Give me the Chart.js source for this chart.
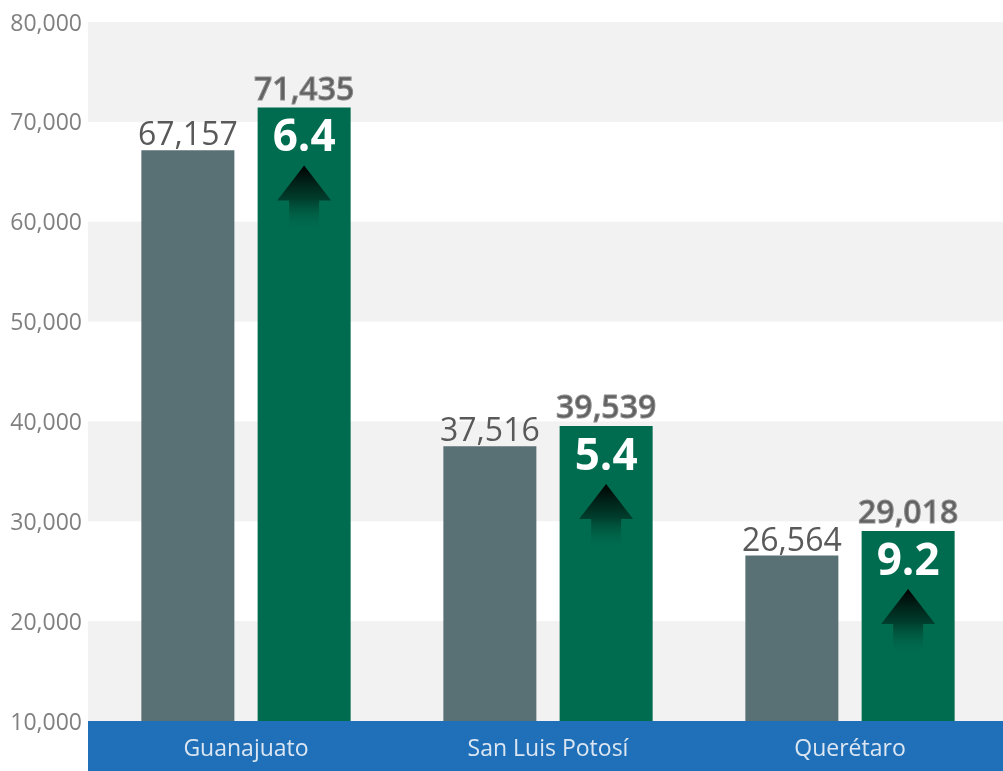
<!DOCTYPE html>
<html>
<head>
<meta charset="utf-8">
<script src="https://cdn.jsdelivr.net/npm/chart.js@4.4.0/dist/chart.umd.min.js"></script>
<style>
html,body{margin:0;padding:0;background:#fff;}
#wrap{width:1003px;height:771px;position:relative;}
</style>
</head>
<body>
<div id="wrap"><canvas id="c" width="1003" height="771"></canvas></div>
<script>
const categories = ['Guanajuato', 'San Luis Potosí', 'Querétaro'];
const seriesPrev = [67157, 37516, 26564];
const seriesCurr = [71435, 39539, 29018];
const growth = ['6.4', '5.4', '9.2'];
const yTicks = [10000, 20000, 30000, 40000, 50000, 60000, 70000, 80000];

const FONT = '"Open Sans", "Noto Sans", sans-serif';
const BAND_LEFT = 88;

const decor = {
  id: 'decor',
  beforeDraw(chart) {
    const ctx = chart.ctx, a = chart.chartArea, y = chart.scales.y;
    const right = chart.width;
    ctx.save();
    for (let i = 0; i < yTicks.length - 1; i++) {
      const lo = yTicks[i], hi = yTicks[i + 1];
      const idxFromTop = yTicks.length - 2 - i;
      if (idxFromTop % 2 === 0) {
        const y1 = y.getPixelForValue(hi), y2 = y.getPixelForValue(lo);
        ctx.fillStyle = '#f2f2f2';
        ctx.fillRect(BAND_LEFT, y1, right - BAND_LEFT, y2 - y1);
      }
    }
    ctx.fillStyle = '#1f70b8';
    ctx.fillRect(BAND_LEFT, a.bottom, right - BAND_LEFT, chart.height - a.bottom);
    ctx.restore();
  },
  afterDatasetsDraw(chart) {
    const ctx = chart.ctx;
    const m0 = chart.getDatasetMeta(0), m1 = chart.getDatasetMeta(1);
    ctx.save();
    ctx.textAlign = 'center';
    ctx.textBaseline = 'alphabetic';
    m0.data.forEach((el, i) => {
      ctx.font = '32px ' + FONT;
      ctx.fillStyle = '#595959';
      ctx.fillText(seriesPrev[i].toLocaleString('en-US'), el.x, el.y - 5);
    });
    m1.data.forEach((el, i) => {
      ctx.font = '600 32px ' + FONT;
      ctx.fillStyle = '#616161';
      ctx.strokeStyle = '#8c8c8c';
      ctx.lineWidth = 1;
      const t = seriesCurr[i].toLocaleString('en-US');
      ctx.fillText(t, el.x, el.y - 8);
      ctx.strokeText(t, el.x, el.y - 8);
      ctx.font = 'bold 44px ' + FONT;
      ctx.fillStyle = '#ffffff';
      ctx.textBaseline = 'middle';
      ctx.fillText(growth[i], el.x, el.y + 31);
      ctx.textBaseline = 'alphabetic';
      const top = el.y + 58, base = el.y + 93, bottom = el.y + 124;
      const g = ctx.createLinearGradient(0, top, 0, bottom);
      g.addColorStop(0, '#000000');
      g.addColorStop(0.5, 'rgba(0,40,28,0.7)');
      g.addColorStop(1, 'rgba(0,107,79,0)');
      ctx.fillStyle = g;
      ctx.beginPath();
      ctx.moveTo(el.x, top);
      ctx.lineTo(el.x + 27, base);
      ctx.lineTo(el.x + 15, base);
      ctx.lineTo(el.x + 15, bottom);
      ctx.lineTo(el.x - 15, bottom);
      ctx.lineTo(el.x - 15, base);
      ctx.lineTo(el.x - 27, base);
      ctx.closePath();
      ctx.fill();
    });
    ctx.restore();
  }
};

new Chart(document.getElementById('c'), {
  type: 'bar',
  data: {
    labels: categories,
    datasets: [
      { data: seriesPrev, backgroundColor: '#597174', borderWidth: 0 },
      { data: seriesCurr, backgroundColor: '#006c4f', borderWidth: 0 }
    ]
  },
  options: {
    responsive: false,
    animation: false,
    devicePixelRatio: 1,
    layout: { padding: { top: 22, right: 2, left: 0, bottom: 0 } },
    datasets: { bar: { categoryPercentage: 0.77, barPercentage: 0.80 } },
    plugins: { legend: { display: false }, tooltip: { enabled: false } },
    scales: {
      x: {
        grid: { display: false, drawTicks: false },
        border: { display: false },
        ticks: { color: '#dce6f2', font: { family: FONT, size: 23 }, padding: 15 },
        afterFit(s) { s.height = 50; }
      },
      y: {
        min: 10000, max: 80000,
        afterBuildTicks(s) { s.ticks = yTicks.map(v => ({ value: v })); },
        grid: { display: false, drawTicks: false },
        border: { display: false },
        ticks: {
          color: '#808080',
          font: { family: FONT, size: 23, lineHeight: 0.5 },
          padding: 13,
          labelOffset: 2,
          callback: v => v.toLocaleString('en-US')
        },
        afterFit(s) { s.width = 95; }
      }
    }
  },
  plugins: [decor]
});
</script>
</body>
</html>
